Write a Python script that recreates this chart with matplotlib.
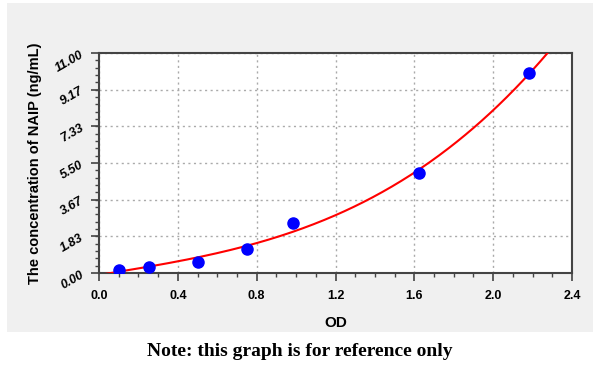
import numpy as np
import matplotlib.pyplot as plt
from matplotlib.patches import Rectangle
from matplotlib.ticker import MultipleLocator, FixedLocator

plt.rcParams['font.family'] = ['Liberation Sans', 'DejaVu Sans']

# standard curve points
od = [0.10, 0.255, 0.504, 0.752, 0.983, 1.623, 2.18]
conc = [0.15, 0.32, 0.57, 1.22, 2.48, 4.98, 9.98]

xticks = [0.0, 0.4, 0.8, 1.2, 1.6, 2.0, 2.4]
yticks = [0.00, 1.83, 3.67, 5.50, 7.33, 9.17, 11.00]

fig = plt.figure(figsize=(6, 3.72), dpi=100)
fig.patches.append(Rectangle((7 / 600, 1 - 332 / 372), 586 / 600, 329 / 372,
                             transform=fig.transFigure, facecolor='#f0f0f0',
                             edgecolor='none', zorder=-10))
ax = fig.add_axes([99 / 600, 1 - 273 / 372, 473 / 600, 220 / 372])
ax.set_facecolor('white')

# fitted curve (cubic through the points)
coef = np.polyfit(od, conc, 3)
xs = np.linspace(0, 2.4, 400)
ys = np.polyval(coef, xs)
ax.plot(xs, ys, color='#ff0000', lw=1.5, zorder=3, clip_on=True)
ax.plot(od, conc, 'o', color='#0000ff', ms=8, zorder=4)

ax.set_xlim(0, 2.4)
ax.set_ylim(0, 11)
ax.xaxis.set_major_locator(FixedLocator(xticks))
ax.xaxis.set_minor_locator(MultipleLocator(0.1))
ax.yaxis.set_major_locator(FixedLocator(yticks))
ax.yaxis.set_minor_locator(MultipleLocator(11 / 30))
ax.set_xticklabels([f'{t:.1f}' for t in xticks], fontweight='bold', fontsize=9)
ax.set_yticklabels([f'{t:.2f}' for t in yticks], fontweight='bold', fontsize=9,
                   rotation=30, style='italic')
ax.tick_params(which='major', length=6, color='#444444', width=1.2)
ax.tick_params(which='minor', length=3, color='#444444', width=1)
ax.tick_params(axis='x', pad=6)
ax.grid(True, which='major', color='#aaaaaa', linestyle=(0, (1.5, 2.5)), lw=1)
for s in ax.spines.values():
    s.set_color('#444444')
    s.set_linewidth(1.5)

ax.set_xlabel('OD', fontweight='bold', fontsize=11, labelpad=10)
ax.set_ylabel('The concentration of NAIP (ng/mL)', fontweight='bold', fontsize=10.5,
              labelpad=8)

fig.text(0.5, 1 - 352 / 372, 'Note: this graph is for reference only',
         ha='center', va='center', fontsize=14, fontweight='bold',
         family='Liberation Serif')

fig.savefig('out.png', dpi=100)
